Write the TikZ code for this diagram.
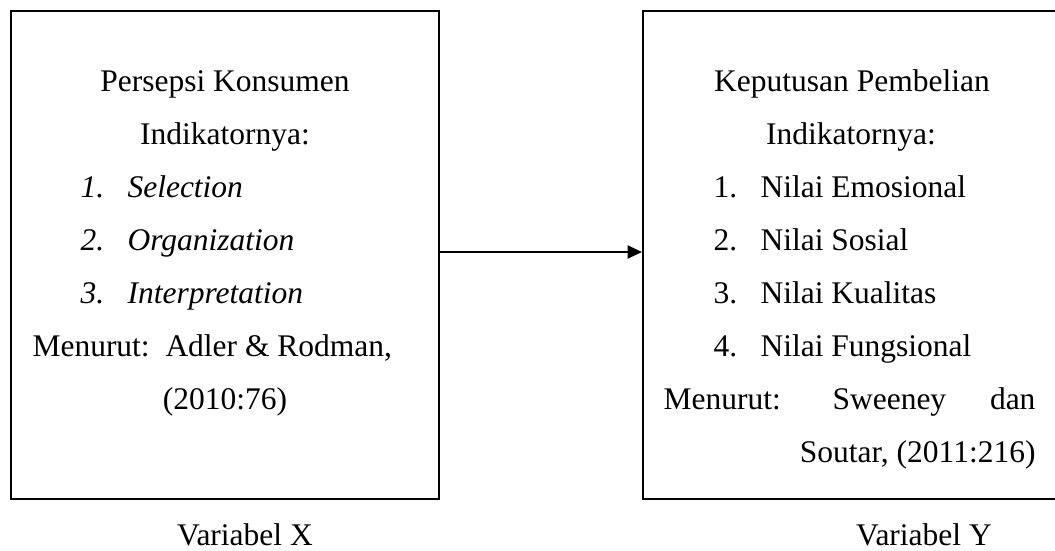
\documentclass[tikz,border=0pt]{standalone}
\usepackage{fontspec}
\setmainfont{Liberation Serif}[ItalicFont={Liberation Serif Italic}]
\usetikzlibrary{arrows.meta}
\newcommand\px{0.381pt}
\tikzset{
  kotak/.style={draw, line width=0.8pt, inner sep=0pt},
  teks/.style={inner sep=0pt, font=\fontsize{12}{14}\selectfont},
  panah/.style={line width=0.8pt, -{Triangle[length=5.5pt,width=5pt]}}
}
\begin{document}
\begin{tikzpicture}[x=\px, y=-\px, line join=miter]
  \path[use as bounding box] (0,0) rectangle (1055,550);
  \clip (0,0) rectangle (1055,550);
  % kotak variabel
  \node[kotak, minimum width=428*\px, minimum height=488*\px] (kotakX) at (225,255) {};
  \node[kotak, minimum width=416*\px, minimum height=488*\px] (kotakY) at (851,255) {};
  % isi kotak X
  \node[teks, anchor=base] (judulX) at (225,91) {Persepsi Konsumen};
  \node[teks, anchor=base] (indX) at (225,144) {Indikatornya:};
  \foreach \t [count=\n] in {Selection, Organization, Interpretation}{
    \node[teks, anchor=base west] (noX\n) at (80,144+53*\n) {\textit{\n.}};
    \node[teks, anchor=base west] (itemX\n) at (127,144+53*\n) {\textit{\t}};
  }
  \node[teks, anchor=base west] (menurutX) at (32,356) {Menurut:\ \ Adler \& Rodman,};
  \node[teks, anchor=base] (tahunX) at (225,409) {(2010:76)};
  % isi kotak Y
  \node[teks, anchor=base] (judulY) at (852,91) {Keputusan Pembelian};
  \node[teks, anchor=base] (indY) at (851,144) {Indikatornya:};
  \foreach \t [count=\n] in {Nilai Emosional, Nilai Sosial, Nilai Kualitas, Nilai Fungsional}{
    \node[teks, anchor=base west] (noY\n) at (713,144+53*\n) {\n.};
    \node[teks, anchor=base west] (itemY\n) at (760,144+53*\n) {\t};
  }
  \node[teks, anchor=base west] (menurutY) at (663,409) {Menurut:};
  \node[teks, anchor=base west] (penulisY) at (832,409) {Sweeney};
  \node[teks, anchor=base east] (danY) at (1036,409) {dan};
  \node[teks, anchor=base east] (tahunY) at (1036,462) {Soutar, (2011:216)};
  % label variabel
  \node[teks, anchor=base] (varX) at (245,545) {Variabel X};
  \node[teks, anchor=base] (varY) at (924,545) {Variabel Y};
  % hubungan
  \draw[panah] ([yshift=3*\px]kotakX.east) -- ([yshift=3*\px]kotakY.west);
\end{tikzpicture}
\end{document}
